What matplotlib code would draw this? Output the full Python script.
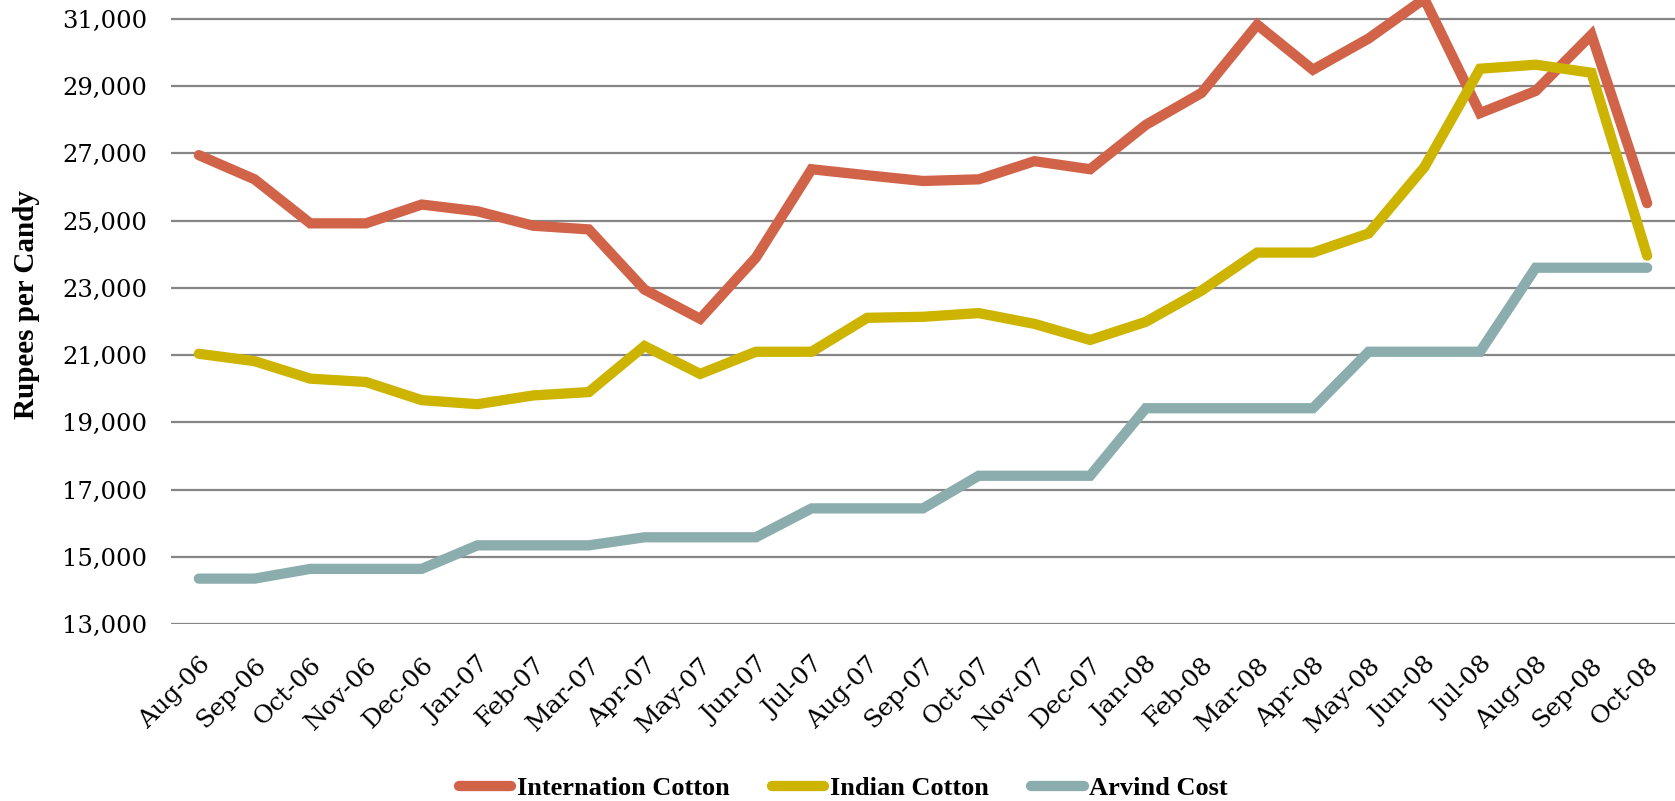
import numpy as np
import matplotlib
matplotlib.use("Agg")
import matplotlib.pyplot as plt
from matplotlib.ticker import FuncFormatter

months = ["Aug-06", "Sep-06", "Oct-06", "Nov-06", "Dec-06", "Jan-07", "Feb-07",
          "Mar-07", "Apr-07", "May-07", "Jun-07", "Jul-07", "Aug-07", "Sep-07",
          "Oct-07", "Nov-07", "Dec-07", "Jan-08", "Feb-08", "Mar-08", "Apr-08",
          "May-08", "Jun-08", "Jul-08", "Aug-08", "Sep-08", "Oct-08"]

international_cotton = [26950, 26230, 24920, 24920, 25480, 25280, 24850, 24740, 22950,
                        22080, 23900, 26530, 26350, 26180, 26230, 26770, 26530, 27850,
                        28800, 30830, 29490, 30420, 31600, 28200, 28860, 30530, 25520]
indian_cotton = [21040, 20820, 20300, 20200, 19660, 19540, 19800, 19900, 21270,
                 20440, 21100, 21100, 22110, 22140, 22250, 21930, 21450, 21990,
                 22920, 24050, 24050, 24620, 26590, 29520, 29640, 29400, 23960]
arvind_cost = [14350, 14350, 14640, 14640, 14640, 15340, 15340, 15340, 15580,
               15580, 15580, 16440, 16440, 16440, 17410, 17410, 17410, 19420,
               19420, 19420, 19420, 21100, 21100, 21100, 23600, 23600, 23600]

series = [
    ("Internation Cotton", international_cotton, "#D16349"),
    ("Indian Cotton", indian_cotton, "#CCB400"),
    ("Arvind Cost", arvind_cost, "#8CADAE"),
]

W, H = 1675, 801
fig = plt.figure(figsize=(W / 100, H / 100), dpi=100)
ax = fig.add_axes([171 / W, (H - 624) / H, 1 - 171 / W, 624 / H])

x = np.arange(len(months))
for name, vals, col in series:
    ax.plot(x, vals, color=col, lw=7.4, label=name,
            solid_capstyle="round", solid_joinstyle="miter")

ax.set_xlim(-0.5, len(months) - 0.5)
ax.set_ylim(13000, 31565)
ax.set_yticks(np.arange(13000, 31001, 2000))
ax.yaxis.set_major_formatter(FuncFormatter(lambda v, p: f"{int(v):,}"))
ax.yaxis.grid(True, color="#868686", lw=1.6)
ax.set_axisbelow(True)
for s in ax.spines.values():
    s.set_visible(False)

ax.tick_params(axis="y", length=0, pad=17, labelsize=17.5)
ax.tick_params(axis="x", length=0, pad=21, labelsize=18)
for lbl in ax.get_yticklabels():
    lbl.set_fontfamily("DejaVu Serif")
ax.set_xticks(x)
ax.set_xticklabels(months, rotation=45, ha="right", va="top",
                   rotation_mode="anchor", fontfamily="DejaVu Serif")

fig.text(27 / W, 1 - 305 / H, "Rupees per Candy", rotation=90, ha="center",
         va="center", fontsize=21, fontweight="bold", family="Liberation Serif")

fig.legend(loc="center", bbox_to_anchor=(843 / W, 1 - 788 / H), ncol=3,
           frameon=False, handlelength=2.0, handletextpad=0.2, columnspacing=1.6,
           prop={"family": "Liberation Serif", "weight": "bold", "size": 19})

fig.savefig("out.png", dpi=100)
